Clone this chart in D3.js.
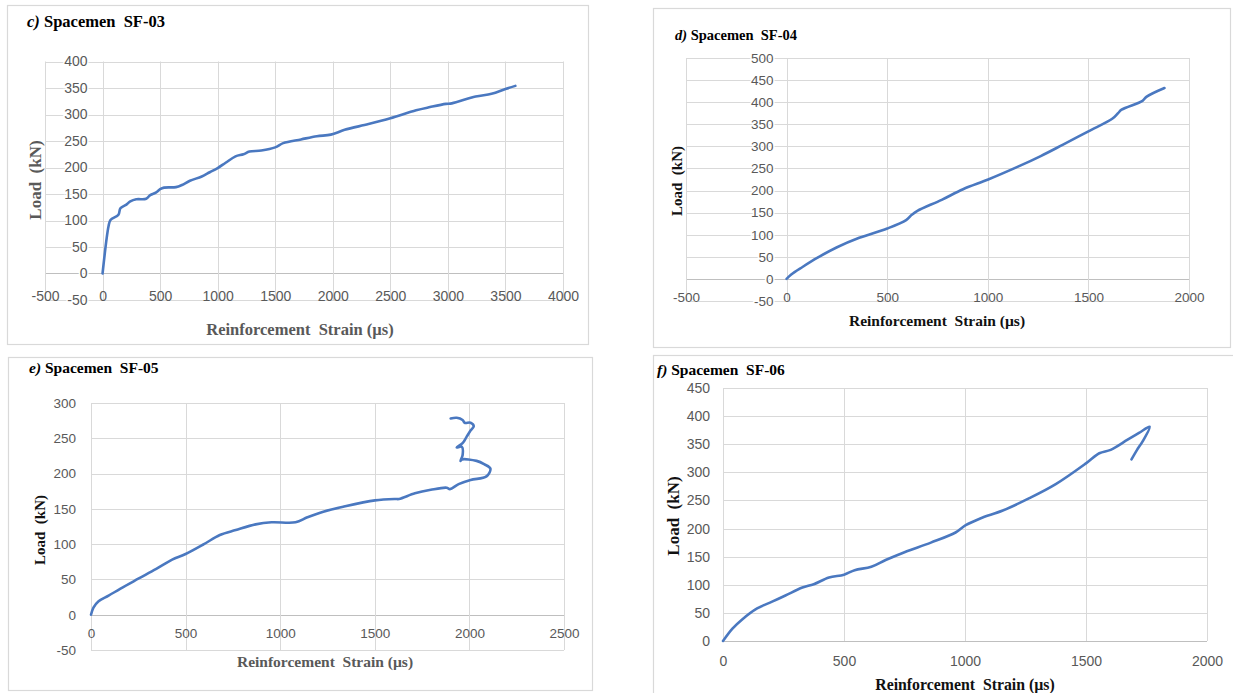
<!DOCTYPE html>
<html>
<head>
<meta charset="utf-8">
<script src="https://cdn.jsdelivr.net/npm/d3@7"></script>
<style>
  html, body { margin: 0; padding: 0; background: #ffffff; }
  svg { display: block; }
</style>
</head>
<body>
<svg id="chart" width="1233" height="693"></svg>
<script>
// ---------- DATA ----------
// c) SF-03
const sf03Strain = [0, 52, 69, 138, 155, 207, 241, 293, 379, 414, 466, 500, 534, 638, 690, 759, 862, 931, 1000, 1069, 1155, 1224, 1276, 1379, 1500, 1569, 1724, 1862, 1983, 2103, 2310, 2500, 2724, 2845, 2983, 3034, 3241, 3379, 3500, 3586];
const sf03Load   = [0, 89, 101, 111, 123, 130, 136, 140, 141, 148, 153, 159, 162, 163, 167, 175, 183, 191, 199, 209, 221, 225, 230, 232, 238, 246, 253, 259, 262, 271, 282, 293, 308, 314, 320, 321, 334, 339, 348, 354];
// d) SF-04
const sf04Strain = [0, 23, 79, 154, 248, 361, 500, 594, 622, 650, 771, 877, 1002, 1150, 1263, 1374, 1500, 1620, 1647, 1665, 1769, 1788, 1878];
const sf04Load   = [0, 10, 27, 48, 71, 93, 114, 133, 145, 154, 179, 203, 225, 254, 278, 304, 334, 363, 375, 383, 403, 412, 432];
// e) SF-05
const sf05Strain = [0, 13, 40, 93, 156, 250, 345, 429, 500, 597, 681, 765, 870, 954, 1081, 1144, 1228, 1333, 1501, 1607, 1628, 1712, 1796, 1880, 1897, 1943, 2006, 2090, 2111, 2080, 2038, 1960, 1953, 1964, 1960, 1933, 1964, 1985, 2006, 2023, 2006, 1975, 1964, 1933, 1901];
const sf05Load   = [0, 10, 19, 27, 37, 51, 65, 78, 86, 100, 113, 120, 128, 131, 131, 138, 146, 153, 162, 164, 164, 172, 177, 180, 178, 185, 191, 196, 207, 213, 218, 220, 218, 226, 238, 237, 243, 252, 261, 267, 272, 272, 276, 279, 278];
// f) SF-06
const sf06Strain = [0, 39, 78, 141, 203, 258, 328, 375, 438, 500, 544, 613, 672, 750, 859, 961, 1003, 1063, 1156, 1266, 1375, 1500, 1555, 1602, 1672, 1719, 1763, 1734, 1711, 1688];
const sf06Load   = [0, 22, 38, 58, 70, 81, 95, 101, 113, 118, 126, 132, 144, 158, 175, 193, 206, 218, 232, 254, 279, 316, 334, 340, 358, 370, 381, 355, 340, 323];

// tick labels
const sf03XTicks = [-500, 0, 500, 1000, 1500, 2000, 2500, 3000, 3500, 4000];
const sf03YTicks = [-50, 0, 50, 100, 150, 200, 250, 300, 350, 400];
const sf04XTicks = [-500, 0, 500, 1000, 1500, 2000];
const sf04YTicks = [-50, 0, 50, 100, 150, 200, 250, 300, 350, 400, 450, 500];
const sf05XTicks = [0, 500, 1000, 1500, 2000, 2500];
const sf05YTicks = [-50, 0, 50, 100, 150, 200, 250, 300];
const sf06XTicks = [0, 500, 1000, 1500, 2000];
const sf06YTicks = [0, 50, 100, 150, 200, 250, 300, 350, 400, 450];

const panelLetters = ["c)", "d)", "e)", "f)"];
const panelNames = ["Spacemen\u00A0\u00A0SF-03", "Spacemen\u00A0\u00A0SF-04", "Spacemen\u00A0\u00A0SF-05", "Spacemen\u00A0\u00A0SF-06"];
const xTitle = "Reinforcement\u00A0\u00A0Strain (\u00B5s)";
const yTitle = "Load\u00A0\u00A0(kN)";

// ---------- LAYOUT ----------
const panels = [
  { strain: sf03Strain, load: sf03Load, xTicks: sf03XTicks, yTicks: sf03YTicks,
    frame: [7, 5, 588, 344], xr: [45, 563], yr: [300, 61.5],
    title: { x: 27, y: 27, size: 16.5 },
    xTitle: { x: 300, y: 329, size: 16.5, color: "#595959" },
    yTitle: { x: 35, y: 180, size: 17, color: "#595959" },
    yLabPad: 15, xLabY: 296, tickSize: 14 },
  { strain: sf04Strain, load: sf04Load, xTicks: sf04XTicks, yTicks: sf04YTicks,
    frame: [653, 8, 1230, 347], xr: [686, 1189], yr: [301, 58],
    title: { x: 675, y: 40, size: 14.5 },
    xTitle: { x: 937, y: 321, size: 15.5, color: "#111111" },
    yTitle: { x: 677, y: 181, size: 15, color: "#111111" },
    yLabPad: 13, xLabY: 297, tickSize: 13.5 },
  { strain: sf05Strain, load: sf05Load, xTicks: sf05XTicks, yTicks: sf05YTicks,
    frame: [8, 357, 592, 690], xr: [91, 564], yr: [650, 403],
    title: { x: 29, y: 373, size: 15.5 },
    xTitle: { x: 325, y: 662, size: 15.5, color: "#595959" },
    yTitle: { x: 40, y: 530, size: 15, color: "#111111" },
    yLabPad: 15, xLabY: 633, tickSize: 13.5 },
  { strain: sf06Strain, load: sf06Load, xTicks: sf06XTicks, yTicks: sf06YTicks,
    frame: [653, 355, 1245, 705], xr: [723, 1207], yr: [641, 388],
    title: { x: 657, y: 375, size: 15.5 },
    xTitle: { x: 965, y: 684, size: 15.8, color: "#111111" },
    yTitle: { x: 673, y: 516, size: 17, color: "#111111" },
    yLabPad: 13, xLabY: 661, tickSize: 14 }
];

const svg = d3.select("#chart");
svg.append("rect").attr("width", 1233).attr("height", 693).attr("fill", "#ffffff");

const serif = "'Liberation Serif', 'Times New Roman', serif";
const sans = "'Liberation Sans', Arial, sans-serif";
const fmt = d => String(d); // plain hyphen-minus, as in the reference

panels.forEach((p, i) => {
  const g = svg.append("g");
  const [fx0, fy0, fx1, fy1] = p.frame;
  g.append("rect").attr("x", fx0 + 0.5).attr("y", fy0 + 0.5)
    .attr("width", fx1 - fx0).attr("height", fy1 - fy0)
    .attr("fill", "#ffffff").attr("stroke", "#d9d9d9").attr("stroke-width", 1.2);

  const xMin = d3.min(p.xTicks), xMax = d3.max(p.xTicks);
  const yMin = d3.min(p.yTicks), yMax = d3.max(p.yTicks);
  const x = d3.scaleLinear().domain([xMin, xMax]).range(p.xr);
  const y = d3.scaleLinear().domain([yMin, yMax]).range(p.yr);

  // gridlines
  const grid = g.append("g");
  grid.selectAll("line.h").data(p.yTicks).join("line")
    .attr("x1", x(xMin)).attr("x2", x(xMax))
    .attr("y1", d => Math.round(y(d)) + 0.5).attr("y2", d => Math.round(y(d)) + 0.5)
    .attr("stroke", d => d === 0 ? "#bfbfbf" : "#d9d9d9").attr("stroke-width", 1);
  grid.selectAll("line.v").data(p.xTicks).join("line")
    .attr("y1", y(yMin)).attr("y2", y(yMax))
    .attr("x1", d => Math.round(x(d)) + 0.5).attr("x2", d => Math.round(x(d)) + 0.5)
    .attr("stroke", "#d9d9d9").attr("stroke-width", 1);

  // y axis labels (next to the vertical axis at strain 0)
  const yAxis = d3.axisLeft(y).tickValues(p.yTicks).tickSize(0).tickPadding(p.yLabPad).tickFormat(fmt);
  const ya = g.append("g").attr("transform", `translate(${x(0)},0)`).call(yAxis);
  ya.select(".domain").remove();
  ya.selectAll("text").attr("font-family", sans).attr("font-size", p.tickSize).attr("fill", "#595959")
    .attr("stroke", "#ffffff").attr("stroke-width", 3).attr("paint-order", "stroke");

  // x axis labels
  const xAxis = d3.axisBottom(x).tickValues(p.xTicks).tickSize(0).tickFormat(fmt);
  const xa = g.append("g").attr("transform", `translate(0,${p.xLabY})`).call(xAxis);
  xa.select(".domain").remove();
  xa.selectAll("text").attr("y", 0).attr("dy", "0.35em")
    .attr("font-family", sans).attr("font-size", p.tickSize).attr("fill", "#595959");

  // data line
  const pts = p.strain.map((s, k) => [s, p.load[k]]);
  const line = d3.line().x(d => x(d[0])).y(d => y(d[1])).curve(d3.curveCatmullRom.alpha(0.5));
  g.append("path").datum(pts).attr("d", line)
    .attr("fill", "none").attr("stroke", "#4a78c0").attr("stroke-width", 2.6)
    .attr("stroke-linejoin", "round").attr("stroke-linecap", "round");

  // title
  const t = g.append("text").attr("x", p.title.x).attr("y", p.title.y)
    .attr("font-family", serif).attr("font-weight", "bold").attr("font-size", p.title.size).attr("fill", "#000000");
  t.append("tspan").attr("font-style", "italic").text(panelLetters[i] + " ");
  t.append("tspan").text(panelNames[i]);

  // axis titles
  g.append("text").attr("x", p.xTitle.x).attr("y", p.xTitle.y).attr("dy", "0.35em")
    .attr("text-anchor", "middle").attr("font-family", serif).attr("font-weight", "bold")
    .attr("font-size", p.xTitle.size).attr("fill", p.xTitle.color).text(xTitle);
  g.append("text").attr("transform", `translate(${p.yTitle.x},${p.yTitle.y}) rotate(-90)`)
    .attr("dy", "0.35em").attr("text-anchor", "middle").attr("font-family", serif).attr("font-weight", "bold")
    .attr("font-size", p.yTitle.size).attr("fill", p.yTitle.color).text(yTitle);
});
</script>
</body>
</html>
